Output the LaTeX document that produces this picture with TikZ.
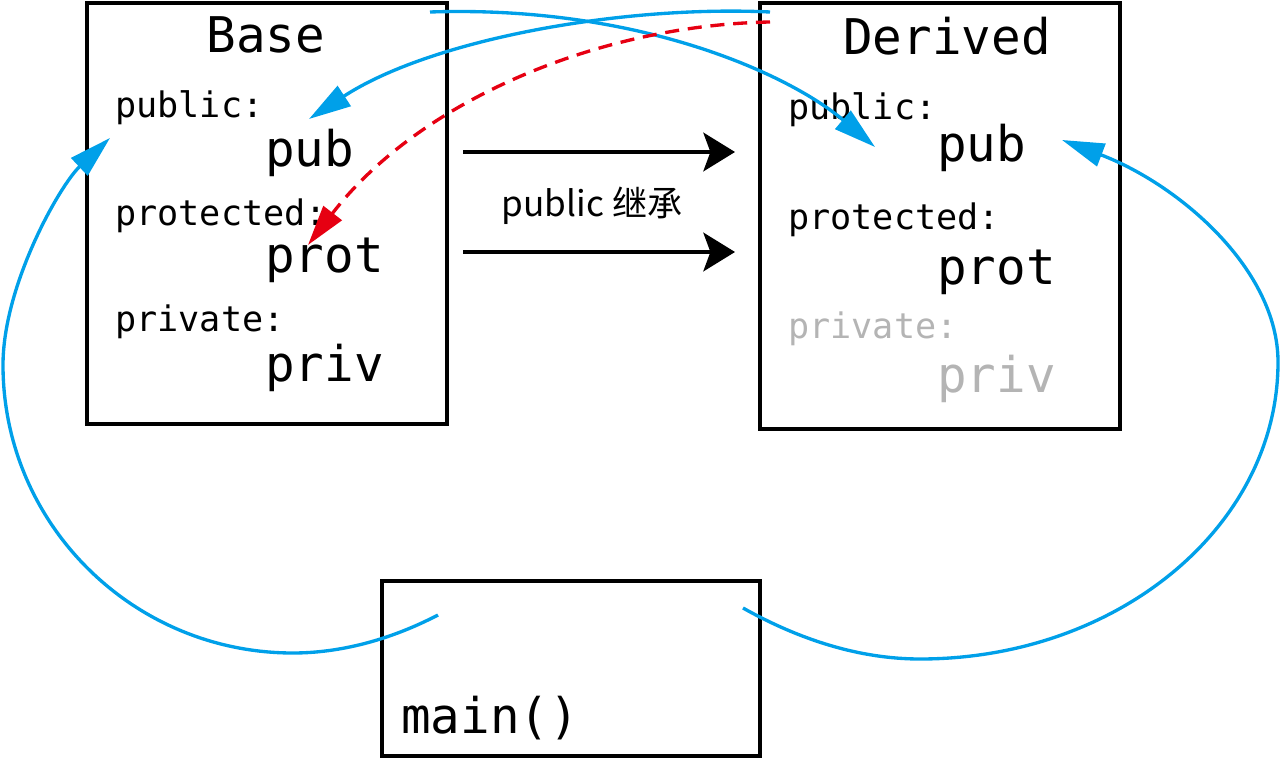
\documentclass[tikz,border=0pt]{standalone}
\usepackage{fontspec}
\setmonofont{DejaVu Sans Mono}
\newfontfamily\cjk{Noto Sans CJK SC}
\usetikzlibrary{arrows.meta}

\definecolor{callblue}{HTML}{00A0E9}
\definecolor{accred}{HTML}{E60012}
\definecolor{hidgray}{HTML}{B4B4B4}

\begin{document}
\begin{tikzpicture}[x=0.02cm, y=-0.02cm,
    classbox/.style={draw, line width=1.9pt, minimum width=7.2cm, inner sep=0},
    title/.style={font=\ttfamily\fontsize{28}{30}\selectfont, anchor=base, inner sep=0},
    access/.style={font=\ttfamily\fontsize{20}{24}\selectfont, anchor=base west, inner sep=0},
    member/.style={font=\ttfamily\fontsize{28}{30}\selectfont, anchor=base west, inner sep=0},
    inherit/.style={line width=2.2pt, -{Stealth[length=18pt, width=22pt, inset=4pt]}},
    call/.style={callblue, line width=1.9pt, -{Triangle[length=24pt, width=13.5pt]}},
    reach/.style={accred, line width=1.9pt, dash pattern=on 8pt off 5pt, -{Triangle[length=23pt, width=13pt]}}]

\useasboundingbox (0,0) rectangle (1280,760);

% Base
\node[classbox, minimum height=8.42cm] (base) at (267,213.5) {};
\node[title] (basetitle) at (266,53) {Base};
\node[access] (bpublic) at (115,118) {public:};
\node[member] (bpub) at (265,167) {pub};
\node[access] (bprotected) at (115,225) {protected:};
\node[member] (bprot) at (265,272) {prot};
\node[access] (bprivate) at (115,331) {private:};
\node[member] (bpriv) at (265,381) {priv};

% Derived
\node[classbox, minimum height=8.52cm] (derived) at (940,216) {};
\node[title] (dertitle) at (947,55) {Derived};
\node[access] (dpublic) at (788,120) {public:};
\node[member] (dpub) at (937,162) {pub};
\node[access] (dprotected) at (788,229) {protected:};
\node[member] (dprot) at (937,284) {prot};
\node[access, hidgray] (dprivate) at (788,338) {private:};
\node[member, hidgray] (dpriv) at (937,392) {priv};

% main()
\node[classbox, minimum width=7.56cm, minimum height=3.5cm] (mainbox) at (571,668.5) {};
\node[member] (maintext) at (401,733) {main()};

% inheritance arrows
\coordinate (inhA) at (463,152);
\coordinate (inhAend) at (735,152);
\coordinate (inhB) at (463,252);
\coordinate (inhBend) at (735,252);
\draw[inherit] (inhA) -- (inhAend);
\draw[inherit] (inhB) -- (inhBend);
\node[font=\cjk\fontsize{20}{24}\selectfont, anchor=base, inner sep=0] (inhlabel) at (592,216) {public 继承};

% access paths
\coordinate (bfrom) at (430,12);
\coordinate (dpubtip) at (875,147);
\coordinate (dfrom) at (770,12);
\coordinate (bpubtip) at (309,119);
\coordinate (dfromred) at (770,22);
\coordinate (bprottip) at (308,245);
\coordinate (mainL) at (438,615);
\coordinate (bpubltip) at (110,138);
\coordinate (mainR) at (743,608);
\coordinate (dpubrtip) at (1062,140);

\draw[call] (bfrom) .. controls (640,5) and (790,75) .. (dpubtip);
\draw[call] (dfrom) .. controls (620,5) and (430,40) .. (bpubtip);
\draw[reach] (dfromred) .. controls (600,25) and (420,100) .. (bprottip);

\draw[call] (mainL) .. controls (390,640) and (340,653) .. (293,653)
    .. controls (133,653) and (3,524) .. (3,365)
    .. controls (3,285) and (60,185) .. (bpubltip);
\draw[call] (mainR) .. controls (800,640) and (860,659) .. (920,659)
    .. controls (1118,659) and (1278,526) .. (1278,362)
    .. controls (1278,270) and (1180,185) .. (dpubrtip);

\end{tikzpicture}
\end{document}
